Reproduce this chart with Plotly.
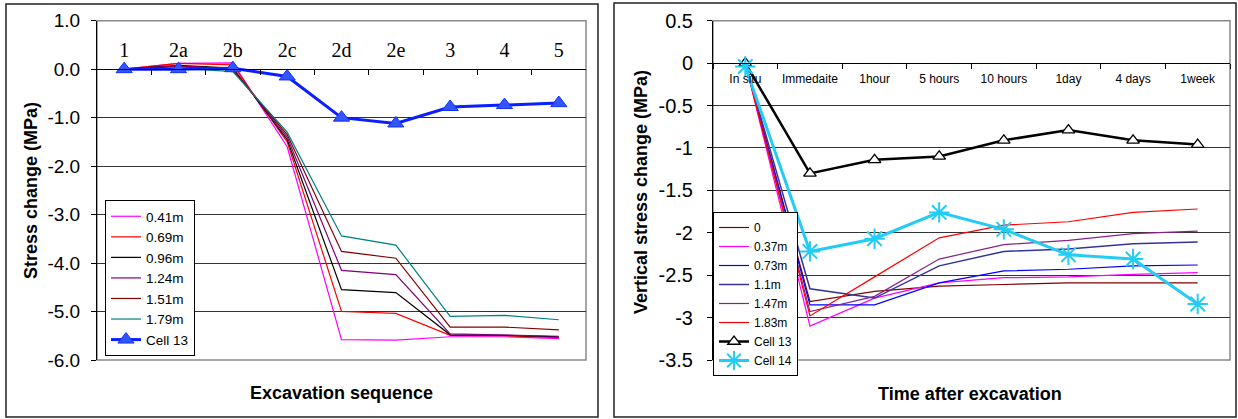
import plotly.graph_objects as go

# ---------------- data: left chart ----------------
seq_cats = ["1", "2a", "2b", "2c", "2d", "2e", "3", "4", "5"]
d041 = [0, 0.12, 0.13, -1.60, -5.58, -5.59, -5.52, -5.52, -5.56]
d069 = [0, 0.12, 0.09, -1.50, -5.00, -5.04, -5.49, -5.50, -5.54]
d096 = [0, 0.08, 0.02, -1.45, -4.55, -4.61, -5.48, -5.49, -5.52]
d124 = [0, 0.07, 0.00, -1.40, -4.15, -4.24, -5.46, -5.48, -5.51]
d151 = [0, 0.05, -0.02, -1.35, -3.76, -3.90, -5.32, -5.32, -5.38]
d179 = [0, 0.02, -0.05, -1.30, -3.44, -3.63, -5.10, -5.08, -5.17]
cell13_seq = [0, 0.0, 0.02, -0.15, -1.00, -1.12, -0.78, -0.74, -0.70]
left_yvals = [1, 0, -1, -2, -3, -4, -5, -6]
left_ytext = ["1.0", "0.0", "-1.0", "-2.0", "-3.0", "-4.0", "-5.0", "-6.0"]

# ---------------- data: right chart ----------------
time_cats = ["In situ", "Immedaite", "1hour", "5 hours", "10 hours", "1day", "4 days", "1week"]
t000 = [0, -2.81, -2.69, -2.63, -2.61, -2.59, -2.59, -2.59]
t037 = [0, -3.10, -2.77, -2.59, -2.53, -2.52, -2.49, -2.47]
t073 = [0, -2.85, -2.85, -2.59, -2.45, -2.43, -2.39, -2.38]
t110 = [0, -2.66, -2.77, -2.39, -2.22, -2.19, -2.13, -2.11]
t147 = [0, -2.93, -2.75, -2.31, -2.14, -2.09, -2.01, -1.98]
t183 = [0, -2.98, -2.52, -2.06, -1.91, -1.87, -1.76, -1.72]
cell13_time = [0, -1.30, -1.14, -1.10, -0.91, -0.79, -0.91, -0.96]
cell14_time = [-0.04, -2.22, -2.07, -1.76, -1.96, -2.26, -2.31, -2.84]
right_yvals = [0.5, 0, -0.5, -1, -1.5, -2, -2.5, -3, -3.5]
right_ytext = ["0.5", "0", "-0.5", "-1", "-1.5", "-2", "-2.5", "-3", "-3.5"]

W, H = 1238, 419
def px(x): return x / W
def py(y): return 1 - y / H

fig = go.Figure()

left_series = [
    ("0.41m", d041, "#FF00FF"),
    ("0.69m", d069, "#FF0000"),
    ("0.96m", d096, "#000000"),
    ("1.24m", d124, "#800080"),
    ("1.51m", d151, "#800000"),
    ("1.79m", d179, "#008080"),
]
for name, vals, col in left_series:
    fig.add_trace(go.Scatter(x=seq_cats, y=vals, name=name, mode="lines",
                             line=dict(color=col, width=1.2),
                             xaxis="x", yaxis="y", legend="legend"))
fig.add_trace(go.Scatter(x=seq_cats, y=cell13_seq, name="Cell 13", mode="lines+markers",
                         line=dict(color="#0A1EFF", width=3),
                         marker=dict(symbol="triangle-up", size=14, color="#3355FF",
                                     line=dict(color="#1030FF", width=1)),
                         xaxis="x", yaxis="y", legend="legend"))

right_series = [
    ("0", t000, "#800000", 1.2),
    ("0.37m", t037, "#FF00FF", 1.2),
    ("0.73m", t073, "#0000FF", 1.2),
    ("1.1m", t110, "#333399", 1.5),
    ("1.47m", t147, "#882288", 1.2),
    ("1.83m", t183, "#FF0000", 1.2),
]
for name, vals, col, w in right_series:
    fig.add_trace(go.Scatter(x=time_cats, y=vals, name=name, mode="lines",
                             line=dict(color=col, width=w),
                             xaxis="x2", yaxis="y2", legend="legend2"))
fig.add_trace(go.Scatter(x=time_cats, y=cell13_time, name="Cell 13", mode="lines+markers",
                         line=dict(color="#000000", width=2.5),
                         marker=dict(symbol="triangle-up", size=11, color="white",
                                     line=dict(color="#000000", width=1.3)),
                         xaxis="x2", yaxis="y2", legend="legend2"))
fig.add_trace(go.Scatter(x=time_cats, y=cell14_time, name="Cell 14", mode="lines+markers",
                         line=dict(color="#22CCF5", width=3),
                         marker=dict(symbol="asterisk-open", size=17,
                                     line=dict(color="#22CCF5", width=2)),
                         xaxis="x2", yaxis="y2", legend="legend2"))

ydom = [py(360), py(20.7)]
pos_left = ydom[0] + (ydom[1] - ydom[0]) * 6 / 7
pos_right = ydom[0] + (ydom[1] - ydom[0]) * 3.5 / 4

fig.update_layout(
    width=W, height=H,
    margin=dict(l=0, r=0, t=0, b=0, autoexpand=False),
    paper_bgcolor="white", plot_bgcolor="white",
    font=dict(family="Arial, Liberation Sans", color="black"),
    xaxis=dict(type="category", domain=[px(97), px(586)], anchor="free", position=pos_left,
               side="top", showline=True, linecolor="black", linewidth=1,
               ticks="inside", ticklen=5, tickcolor="black", tickson="boundaries",
               tickfont=dict(family="Liberation Serif", size=20, color="black"),
               showgrid=False, zeroline=False, range=[-0.5, 8.5], ticklabelstandoff=4,
               tickangle=0, automargin=False),
    yaxis=dict(domain=ydom, anchor="x", range=[-6, 1], tickmode="array",
               tickvals=left_yvals, ticktext=left_ytext,
               showgrid=True, gridcolor="#333333", gridwidth=1, zeroline=False,
               showline=True, linecolor="black", linewidth=1,
               ticks="outside", ticklen=5, tickcolor="black",
               tickfont=dict(family="Arial, Liberation Sans", size=19, color="black"),
               ticklabelstandoff=7, automargin=False),
    xaxis2=dict(type="category", domain=[px(713), px(1230)], anchor="free", position=pos_right,
                side="bottom", showline=True, linecolor="black", linewidth=1,
                ticks="outside", ticklen=5, tickcolor="black", tickson="boundaries",
                tickfont=dict(family="Arial, Liberation Sans", size=12, color="black"),
                showgrid=False, zeroline=False, range=[-0.5, 7.5], ticklabelstandoff=4,
                tickangle=0, automargin=False),
    yaxis2=dict(domain=ydom, anchor="x2", range=[-3.5, 0.5], tickmode="array",
                tickvals=right_yvals, ticktext=right_ytext,
                showgrid=True, gridcolor="#333333", gridwidth=1, zeroline=False,
                showline=True, linecolor="black", linewidth=1,
                ticks="outside", ticklen=5, tickcolor="black",
                tickfont=dict(family="Arial, Liberation Sans", size=20, color="black"),
                ticklabelstandoff=10, automargin=False),
    legend=dict(x=px(105), y=py(200), xanchor="left", yanchor="top",
                bgcolor="white", bordercolor="black", borderwidth=1,
                font=dict(family="Arial, Liberation Sans", size=13.5, color="black"),
                tracegroupgap=0),
    legend2=dict(x=px(713), y=py(212), xanchor="left", yanchor="top",
                 bgcolor="white", bordercolor="black", borderwidth=1,
                 font=dict(family="Arial, Liberation Sans", size=12, color="black"),
                 tracegroupgap=0),
    showlegend=True,
)

shapes = [
    dict(type="rect", xref="paper", yref="paper", x0=px(6), x1=px(598), y0=py(417), y1=py(4),
         line=dict(color="#222222", width=1.5), layer="below"),
    dict(type="rect", xref="paper", yref="paper", x0=px(614), x1=px(1236), y0=py(417), y1=py(3),
         line=dict(color="#222222", width=1.5), layer="below"),
    dict(type="rect", xref="x domain", yref="y domain", x0=0, x1=1, y0=0, y1=1,
         line=dict(color="#8a8a8a", width=1.5), layer="below"),
    dict(type="rect", xref="x2 domain", yref="y2 domain", x0=0, x1=1, y0=0, y1=1,
         line=dict(color="#8a8a8a", width=1.5), layer="below"),
]
fig.update_layout(shapes=shapes)

title_font = dict(size=18, family="Arial, Liberation Sans", color="black")
annotations = [
    dict(text="<b>Stress change (MPa)</b>", x=px(31), y=py(191), xref="paper", yref="paper",
         xanchor="center", yanchor="middle", textangle=-90, showarrow=False, font=title_font),
    dict(text="<b>Excavation sequence</b>", x=px(341), y=py(393), xref="paper", yref="paper",
         xanchor="center", yanchor="middle", showarrow=False, font=title_font),
    dict(text="<b>Vertical stress change (MPa)</b>", x=px(641), y=py(192), xref="paper", yref="paper",
         xanchor="center", yanchor="middle", textangle=-90, showarrow=False, font=title_font),
    dict(text="<b>Time after excavation</b>", x=px(970), y=py(394), xref="paper", yref="paper",
         xanchor="center", yanchor="middle", showarrow=False, font=title_font),
]
fig.update_layout(annotations=annotations)

fig.write_html("out.html", config={"displayModeBar": False},
               post_script="document.body.style.margin='0';document.body.style.overflow='hidden';")
